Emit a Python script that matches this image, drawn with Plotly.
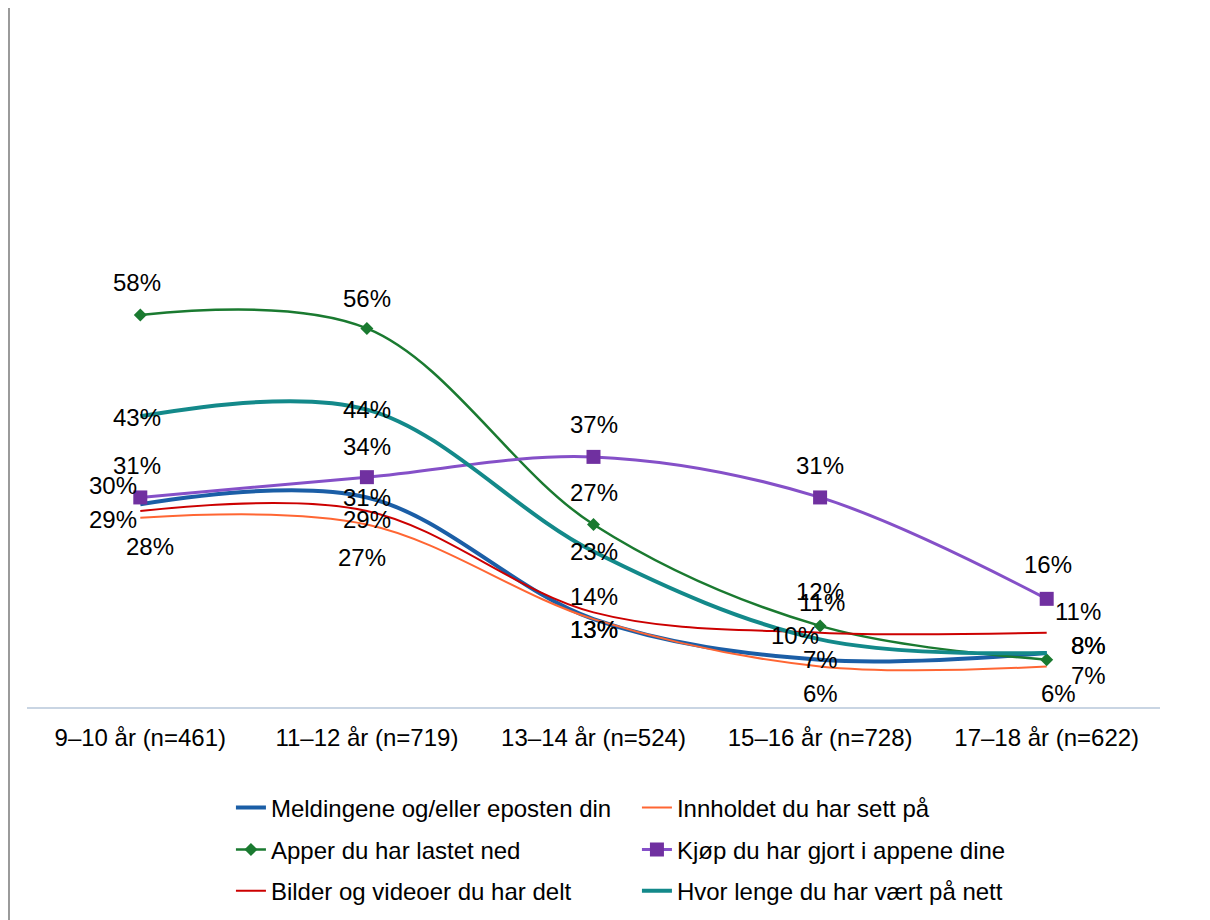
import plotly.graph_objects as go

# categories and series values (percent)
categories = ["9–10 år (n=461)", "11–12 år (n=719)", "13–14 år (n=524)",
              "15–16 år (n=728)", "17–18 år (n=622)"]

meldingene = [30, 31, 13, 7, 8]
innholdet = [28, 27, 13, 6, 6]
apper = [58, 56, 27, 12, 7]
kjop = [31, 34, 37, 31, 16]
bilder = [29, 29, 14, 11, 11]
hvor_lenge = [43, 44, 23, 10, 8]

series_names = [
    "Meldingene og/eller eposten din",
    "Innholdet du har sett på",
    "Apper du har lastet ned",
    "Kjøp du har gjort i appene dine",
    "Bilder og videoer du har delt",
    "Hvor lenge du har vært på nett",
]
series_values = [meldingene, innholdet, apper, kjop, bilder, hvor_lenge]

FONT = "Liberation Sans, Arial, sans-serif"

# styling per series: line colour, width, marker symbol/colour/size, legend row
styles = [
    dict(color="#1B5EA6", width=4, symbol=None, mcolor=None, msize=0, legend="legend"),
    dict(color="#FF6633", width=2, symbol=None, mcolor=None, msize=0, legend="legend"),
    dict(color="#1A7A30", width=2.5, symbol="diamond", mcolor="#1A7A30", msize=10, legend="legend2"),
    dict(color="#8550C8", width=3, symbol="square", mcolor="#7030A0", msize=14, legend="legend2"),
    dict(color="#CC0000", width=2, symbol=None, mcolor=None, msize=0, legend="legend3"),
    dict(color="#13898A", width=4, symbol=None, mcolor=None, msize=0, legend="legend3"),
]

# pixel offsets (dx, dy down) of each data label from its point
label_shift = [
    [(-27, -19), (0, 0), (0, 10), (0, 0), (42, -7)],
    [(10, 29), (-5, 33), (0, 10), (0, 27), (12, 27)],
    [(-3, -32), (0, -30), (0, -32), (0, -34), (42, 16)],
    [(-3, -32), (0, -31), (0, -32), (0, -32), (1, -34)],
    [(-27, 9), (0, 9), (0, -16), (2, -30), (31, -21)],
    [(-3, 1), (0, 0), (0, 0), (-25, -4), (42, -7)],
]

fig = go.Figure()

for name, vals, st in zip(series_names, series_values, styles):
    has_marker = st["symbol"] is not None
    fig.add_trace(go.Scatter(
        x=categories, y=vals, name=name,
        mode="lines+markers" if has_marker else "lines",
        line=dict(color=st["color"], width=st["width"], shape="spline", smoothing=1.0),
        marker=dict(symbol=st["symbol"] or "circle", color=st["mcolor"] or st["color"],
                    size=st["msize"] or 1),
        legend=st["legend"],
        hoverinfo="skip",
    ))

annotations = []
for vals, shifts in zip(series_values, label_shift):
    for cat, v, (dx, dy) in zip(categories, vals, shifts):
        annotations.append(dict(
            x=cat, y=v, xref="x", yref="y", text=f"{v}%",
            showarrow=False, xshift=dx, yshift=-dy,
            font=dict(family=FONT, size=24, color="#000000"),
        ))

legend_common = dict(
    orientation="h", xanchor="left", yanchor="middle", x=0.180,
    font=dict(family=FONT, size=24, color="#000000"),
    entrywidth=361, entrywidthmode="pixels", bgcolor="rgba(0,0,0,0)",
)

fig.update_layout(
    width=1210, height=920,
    paper_bgcolor="white", plot_bgcolor="white",
    margin=dict(l=19, r=58, t=23, b=221),
    font=dict(family=FONT, size=24, color="#000000"),
    annotations=annotations,
    showlegend=True,
    legend=dict(legend_common, y=-0.1494),
    legend2=dict(legend_common, y=-0.2114),
    legend3=dict(legend_common, y=-0.2724),
    # thin grey frame line at the far left of the page
    shapes=[dict(type="line", xref="paper", yref="paper", x0=-0.0159, x1=-0.0159,
                 y0=1.04, y1=-0.33, line=dict(color="#9A9A9A", width=2))],
)

fig.update_xaxes(
    type="category", range=[-0.5, 4.5], showgrid=False, zeroline=False,
    showline=True, linecolor="#C9D5E3", linewidth=2, automargin=False,
    ticks="", ticklabelstandoff=8, tickfont=dict(size=24, color="#000000"),
)
fig.update_yaxes(range=[0, 100], visible=False, showgrid=False)

fig.write_html("out.html")
